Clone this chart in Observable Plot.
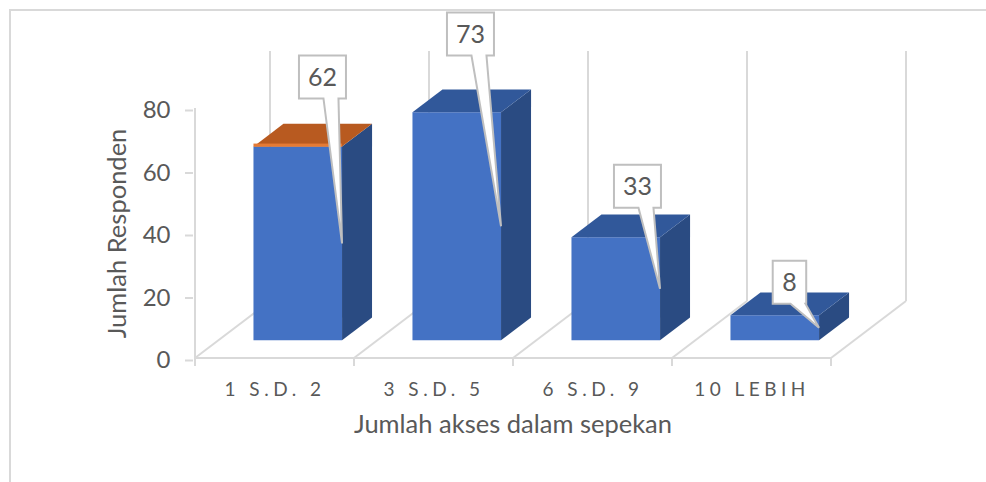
<!DOCTYPE html>
<html><head><meta charset="utf-8">
<script src="https://cdn.jsdelivr.net/npm/d3@7"></script>
<script src="https://cdn.jsdelivr.net/npm/@observablehq/plot@0.6"></script>
<style>
html,body{margin:0;padding:0;background:#fff;}
#wrap{position:relative;width:986px;height:482px;overflow:hidden;}
#border{position:absolute;left:9px;top:9px;width:1000px;height:500px;border-left:2px solid #d9d9d9;border-top:2px solid #d9d9d9;}
#chart{position:absolute;left:0;top:0;}
#chart svg{overflow:visible;}
#chart [aria-label="x-axis tick label"] text{letter-spacing:4.5px;}
</style></head><body>
<div id="wrap"><div id="border"></div><div id="chart"></div></div>
<script>
// ---- data ----
const categories = ["1 S.D. 2", "3 S.D. 5", "6 S.D. 9", "10 LEBIH"];
const values = [62, 73, 33, 8];
const yTicks = [0, 20, 40, 60, 80];
const xTitle = "Jumlah akses dalam sepekan";
const yTitle = "Jumlah Responden";
const highlighted = ["1 S.D. 2"]; // bar whose top face is orange

const data = categories.map((c, i) => ({cat: c, value: values[i]}));

// ---- 3D layout (pixels / fractions) ----
const FLOOR = {dx: 75, dy: -57};          // depth of floor
const BAR_FRONT = 0.31, BAR_DEPTH = 0.4;  // bar placement in depth
const BAR_W = 0.557;                      // fraction of band
// callout placement: horizontal offset from bar's front-left, vertical position in value units
const calloutLayout = [{dx: 69, y: 84.3}, {dx: 58, y: 98}, {dx: 66, y: 49.3}, {dx: 59, y: 18.6}];

const GRID = "#d9d9d9", TEXT = "#595959";
const FRONT = "#4472c4", TOP = "#31589a", SIDE = "#2a4b82";
const TOP_HI = "#b85a20", EDGE_HI = "#e57a34";

function barGeom(scales, d) {
  const {x, y} = scales;
  const bw = x.bandwidth();
  const w = bw * BAR_W;
  const ox = FLOOR.dx * BAR_FRONT, oy = FLOOR.dy * BAR_FRONT;
  const x0 = x(d.cat) + (bw - w) / 2 + ox;
  const x1 = x0 + w;
  const yb = y(0) + oy, yt = y(d.value) + oy;
  const ddx = FLOOR.dx * BAR_DEPTH, ddy = FLOOR.dy * BAR_DEPTH;
  return {x0, x1, yb, yt, ddx, ddy};
}

function floorAndWalls(index, scales) {
  const {x, y} = scales;
  const g = d3.create("svg:g").attr("stroke", GRID).attr("stroke-width", 2).attr("fill", "none");
  const bw = x.bandwidth();
  const bounds = categories.map(c => x(c)).concat([x(categories[categories.length - 1]) + bw]);
  const y0 = y(0), yMax = y(d3.max(yTicks));
  for (const b of bounds) {
    g.append("line").attr("x1", b + FLOOR.dx).attr("x2", b + FLOOR.dx)
      .attr("y1", y0 + FLOOR.dy).attr("y2", yMax + FLOOR.dy);
    g.append("line").attr("x1", b).attr("x2", b + FLOOR.dx)
      .attr("y1", y0).attr("y2", y0 + FLOOR.dy);
    g.append("line").attr("x1", b).attr("x2", b).attr("y1", y0).attr("y2", y0 + 8);
  }
  g.append("line").attr("x1", bounds[0]).attr("x2", bounds[bounds.length - 1]).attr("y1", y0).attr("y2", y0);
  g.append("line").attr("x1", bounds[0]).attr("x2", bounds[0]).attr("y1", y0).attr("y2", yMax);
  return g.node();
}

function bars3d(index, scales) {
  const g = d3.create("svg:g");
  for (const d of data) {
    const {x0, x1, yb, yt, ddx, ddy} = barGeom(scales, d);
    const hi = highlighted.includes(d.cat);
    g.append("polygon").attr("fill", FRONT)
      .attr("points", [[x0, yb], [x1, yb], [x1, yt], [x0, yt]].join(" "));
    g.append("polygon").attr("fill", SIDE)
      .attr("points", [[x1, yb], [x1 + ddx, yb + ddy], [x1 + ddx, yt + ddy], [x1, yt]].join(" "));
    g.append("polygon").attr("fill", hi ? TOP_HI : TOP)
      .attr("points", [[x0, yt], [x0 + ddx, yt + ddy], [x1 + ddx, yt + ddy], [x1, yt]].join(" "));
    if (hi) {
      g.append("rect").attr("fill", EDGE_HI).attr("x", x0).attr("y", yt - 3).attr("width", x1 - x0).attr("height", 3);
    }
  }
  return g.node();
}

function callouts(index, scales) {
  const {y} = scales;
  const g = d3.create("svg:g");
  data.forEach((d, i) => {
    const {x0, x1, yb, yt} = barGeom(scales, d);
    const L = calloutLayout[i];
    const oy = FLOOR.dy * BAR_FRONT;
    const cx = x0 + L.dx, cy = y(L.y) + oy;
    const label = String(d.value);
    const w = 20 + 13.5 * label.length, h = 43;
    const l = cx - w / 2, r = cx + w / 2, t = cy - h / 2, b = cy + h / 2;
    const tipX = x1, tipY = (yt + yb) / 2;
    const path = `M${l},${t}H${r}V${b}H${cx + 16}L${tipX},${tipY}L${cx + 1},${b}H${l}Z`;
    g.append("path").attr("d", path).attr("fill", "#fff").attr("stroke", "#bfbfbf").attr("stroke-width", 2).attr("stroke-linejoin", "miter");
    g.append("text").attr("x", cx).attr("y", cy).attr("dy", "0.35em").attr("text-anchor", "middle")
      .attr("fill", TEXT).attr("font-size", 25).text(label);
  });
  return g.node();
}

const chart = Plot.plot({
  width: 986,
  height: 482,
  marginLeft: 193,
  marginRight: 154,
  marginTop: 108,
  marginBottom: 124,
  style: {fontFamily: "Lato, 'Open Sans', sans-serif", color: TEXT, background: "transparent"},
  x: {type: "band", domain: categories, padding: 0, axis: null},
  y: {domain: [0, 80], axis: null},
  marks: [
    floorAndWalls,
    bars3d,
    callouts,
    Plot.axisY({ticks: yTicks, tickSize: 8, tickPadding: 15, fontSize: 24, stroke: GRID, strokeWidth: 2, fill: TEXT, label: null, dy: 2}),
    Plot.axisX({tickSize: 0, tickPadding: 24, fontSize: 19, fill: TEXT, label: null}),
    Plot.text([yTitle], {text: d => d, frameAnchor: "left", textAnchor: "middle", rotate: -90, dx: -76, fontSize: 25.5, fill: TEXT}),
    Plot.text([xTitle], {text: d => d, frameAnchor: "bottom", textAnchor: "middle", dy: 74, fontSize: 25.5, fill: TEXT})
  ]
});
document.getElementById("chart").appendChild(chart);
</script>
</body></html>
